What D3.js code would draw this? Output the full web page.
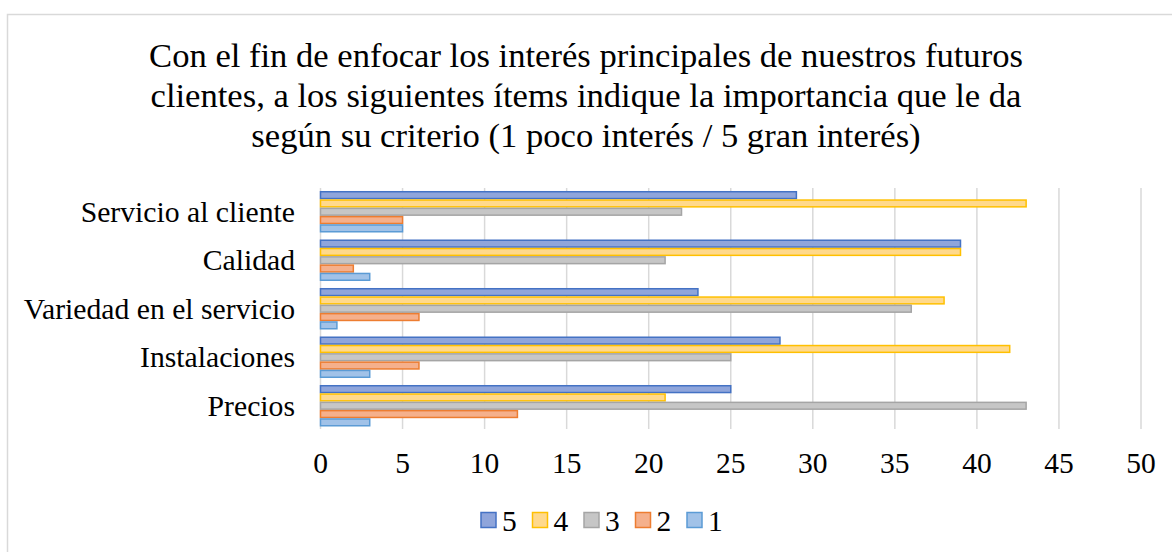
<!DOCTYPE html>
<html>
<head>
<meta charset="utf-8">
<script src="https://cdn.jsdelivr.net/npm/d3@7"></script>
<style>
  body { margin: 0; background: #fff; }
  text { font-family: "Liberation Serif", "Times New Roman", serif; fill: #000; }
</style>
</head>
<body>
<svg id="chart" width="1172" height="552"></svg>
<script>
const categories = ["Servicio al cliente", "Calidad", "Variedad en el servicio", "Instalaciones", "Precios"];
const seriesNames = ["5", "4", "3", "2", "1"];
const values5 = [29, 39, 23, 28, 25];
const values4 = [43, 39, 38, 42, 21];
const values3 = [22, 21, 36, 25, 43];
const values2 = [5, 2, 6, 6, 12];
const values1 = [5, 3, 1, 3, 3];
const xTicks = [0, 5, 10, 15, 20, 25, 30, 35, 40, 45, 50];
const titleLines = [
  "Con el fin de enfocar los interés principales de nuestros futuros",
  "clientes, a los siguientes ítems indique la importancia que le da",
  "según su criterio (1 poco interés / 5 gran interés)"
];

const seriesValues = [values5, values4, values3, values2, values1];
const fills = ["#8fa5db", "#ffd98c", "#c6c6c6", "#f5b08c", "#a1c2e8"];
const strokes = ["#4472c4", "#ffc000", "#a5a5a5", "#ed7d31", "#5b9bd5"];

const svg = d3.select("#chart");

// chart frame (only top/left visible in the crop)
svg.append("rect")
  .attr("x", 7.5).attr("y", 14.5)
  .attr("width", 1200).attr("height", 600)
  .attr("fill", "none")
  .attr("stroke", "#d9d9d9")
  .attr("stroke-width", 1.5);

// title
svg.append("g").selectAll("text")
  .data(titleLines)
  .enter()
  .append("text")
  .attr("x", 586)
  .attr("y", (d, i) => 67 + i * 40)
  .attr("text-anchor", "middle")
  .style("font-size", "34.6px")
  .text(d => d);

const x = d3.scaleLinear().domain([0, 50]).range([320.5, 1141]);
const y = d3.scaleBand().domain(categories).range([187.5, 430]).paddingInner(0.144).paddingOuter(0.072);
const ySub = d3.scaleBand().domain(seriesNames).range([0, y.bandwidth()]);

// gridlines
svg.append("g").selectAll("line")
  .data(xTicks)
  .enter()
  .append("line")
  .attr("x1", d => x(d)).attr("x2", d => x(d))
  .attr("y1", 188).attr("y2", 429)
  .attr("stroke", "#d9d9d9")
  .attr("stroke-width", 1.5);

// bars
const groups = svg.append("g").selectAll("g")
  .data(seriesNames)
  .enter()
  .append("g");

groups.selectAll("rect")
  .data((s, si) => categories.map((c, ci) => ({ c: c, v: seriesValues[si][ci], si: si, s: s })))
  .enter()
  .append("rect")
  .attr("x", x(0))
  .attr("y", d => y(d.c) + ySub(d.s) + 0.75)
  .attr("width", d => x(d.v) - x(0))
  .attr("height", ySub.bandwidth() - 1.5)
  .attr("fill", d => fills[d.si])
  .attr("stroke", d => strokes[d.si])
  .attr("stroke-width", 1.5);

// category labels
svg.append("g").selectAll("text")
  .data(categories)
  .enter()
  .append("text")
  .attr("x", 295)
  .attr("y", d => y(d) + y.bandwidth() / 2)
  .attr("dy", "0.33em")
  .attr("text-anchor", "end")
  .style("font-size", "29.7px")
  .text(d => d);

// x tick labels
svg.append("g").selectAll("text")
  .data(xTicks)
  .enter()
  .append("text")
  .attr("x", d => x(d))
  .attr("y", 473)
  .attr("text-anchor", "middle")
  .style("font-size", "29.5px")
  .text(d => d);

// legend
const legend = svg.append("g").selectAll("g")
  .data(seriesNames)
  .enter()
  .append("g")
  .attr("transform", (d, i) => "translate(" + (481 + i * 51.5) + ",512.5)");

legend.append("rect")
  .attr("width", 15).attr("height", 15)
  .attr("fill", (d, i) => fills[i])
  .attr("stroke", (d, i) => strokes[i])
  .attr("stroke-width", 1.5);

legend.append("text")
  .attr("x", 21)
  .attr("y", 18)
  .style("font-size", "29.5px")
  .text(d => d);
</script>
</body>
</html>
